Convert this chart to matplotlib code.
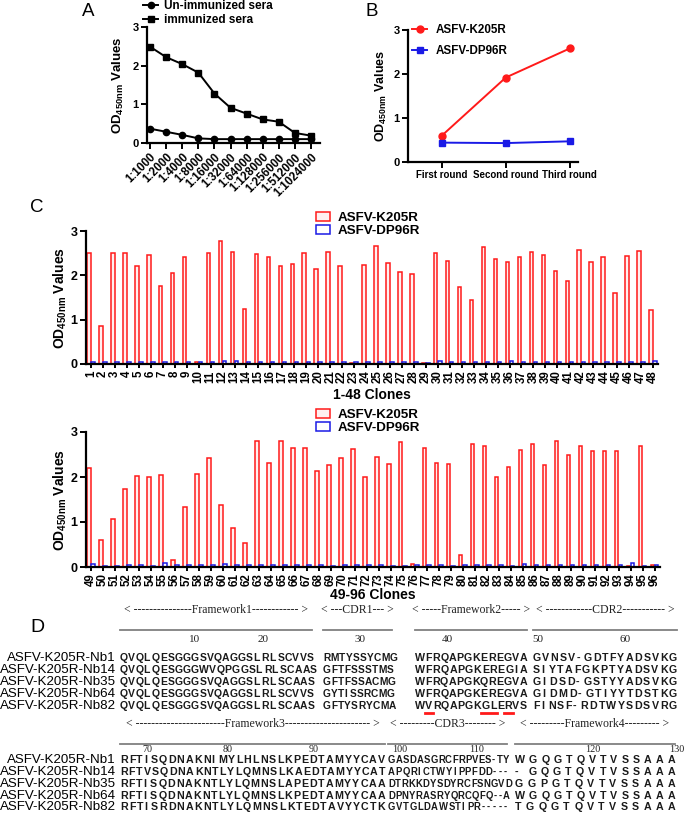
import matplotlib
matplotlib.use("Agg")
import matplotlib.pyplot as plt
import numpy as np
from matplotlib.lines import Line2D
from matplotlib.font_manager import FontProperties

W, H = 685, 816
plt.rcParams['font.family'] = ['Liberation Sans', 'DejaVu Sans']
plt.rcParams['mathtext.fontset'] = 'custom'
plt.rcParams['mathtext.rm'] = 'Liberation Sans:bold'
plt.rcParams['mathtext.bf'] = 'Liberation Sans:bold'
plt.rcParams['mathtext.it'] = 'Liberation Sans:bold'
plt.rcParams['mathtext.default'] = 'bf'

# ---------------- data ----------------
dilutions = ["1:1000", "1:2000", "1:4000", "1:8000", "1:16000", "1:32000",
             "1:64000", "1:128000", "1:256000", "1:512000", "1:1024000"]
unimmunized = [0.37, 0.29, 0.21, 0.12, 0.10, 0.10, 0.10, 0.10, 0.10, 0.10, 0.10]
immunized = [2.49, 2.22, 2.04, 1.82, 1.28, 0.91, 0.76, 0.61, 0.55, 0.26, 0.19]

rounds = ["First round", "Second round", "Third round"]
k205r_rounds = [0.60, 1.92, 2.58]
dp96r_rounds = [0.44, 0.43, 0.47]

clones_a = list(range(1, 49))
k205r_a = [2.50, 0.86, 2.50, 2.50, 2.21, 2.45, 1.77, 2.06, 2.42, 0.05,
           2.50, 2.77, 2.53, 1.24, 2.48, 2.42, 2.20, 2.26, 2.50, 2.15,
           2.52, 2.20, 0.03, 2.23, 2.67, 2.27, 2.08, 2.02, 0.03, 2.51,
           2.32, 1.73, 1.45, 2.63, 2.37, 2.31, 2.41, 2.53, 2.45, 2.09,
           1.88, 2.58, 2.30, 2.42, 1.61, 2.44, 2.55, 1.22]
dp96r_a = [0.05, 0.05, 0.05, 0.05, 0.05, 0.05, 0.05, 0.04, 0.04, 0.05,
           0.04, 0.06, 0.06, 0.04, 0.04, 0.05, 0.05, 0.05, 0.05, 0.04,
           0.04, 0.05, 0.04, 0.05, 0.05, 0.04, 0.05, 0.04, 0.02, 0.07,
           0.05, 0.05, 0.04, 0.05, 0.05, 0.06, 0.05, 0.04, 0.04, 0.05,
           0.05, 0.04, 0.04, 0.05, 0.05, 0.04, 0.04, 0.07]

clones_b = list(range(49, 97))
k205r_b = [2.20, 0.60, 1.06, 1.73, 2.03, 2.00, 2.05, 0.15, 1.34, 2.07,
           2.42, 1.38, 0.86, 0.54, 2.80, 2.32, 2.80, 2.64, 2.64, 2.14,
           2.26, 2.42, 2.63, 2.01, 2.44, 2.29, 2.78, 0.06, 2.64, 2.31,
           2.28, 0.26, 2.73, 2.70, 2.01, 2.23, 2.61, 2.73, 2.27, 2.81,
           2.48, 2.70, 2.58, 2.58, 2.57, 0.03, 2.70, 0.05]
dp96r_b = [0.06, 0.03, 0.03, 0.05, 0.04, 0.03, 0.08, 0.04, 0.04, 0.05,
           0.05, 0.06, 0.04, 0.04, 0.04, 0.04, 0.04, 0.04, 0.04, 0.04,
           0.03, 0.04, 0.04, 0.04, 0.04, 0.03, 0.03, 0.04, 0.04, 0.05,
           0.03, 0.04, 0.04, 0.04, 0.04, 0.03, 0.06, 0.05, 0.04, 0.04,
           0.05, 0.04, 0.04, 0.05, 0.04, 0.08, 0.03, 0.04]

nb_names = ["ASFV-K205R-Nb1", "ASFV-K205R-Nb14", "ASFV-K205R-Nb35",
            "ASFV-K205R-Nb64", "ASFV-K205R-Nb82"]
fr1 = ["QVQL QESGGGSVQAGGSL RL SCVVS", "QVQL QESGGGWVQPGGSL RL SCAAS",
       "QVQL QESGGGSVQAGGSL RL SCAAS", "QVQL QESGGGSVQAGGSL RL SCVVS",
       "QVQL QESGGGSVQAGGSL RL SCAAS"]
cdr1 = ["RMTYSSYCMG", "GFTFSSSTMS", "GFTFSSACMG", "GYTI SSRCMG", "GFTYSRYCMA"]
fr2 = ["WFRQAPGKEREGVA", "WFRQAPGKEREGI A", "WFRQAPGKQREGVA",
       "WFRQAPGKEREGVA", "WVRQAPGKGLERVS"]
cdr2 = ["GVNSV- GDTFYADSVKG", "SI YTAFGKPTYADSVKG", "GI DSD- GSTYYADSVKG",
        "GI DMD- GTI YYTDSTKG", "FI NSF- RDTWYSDSVRG"]
fr3 = ["RFTI SQDNAKNI MYLHLNSLKPEDTAMYYCAV", "RFTVSQDNAKNTLYLQMNSLKAEDTAMYYCAT",
       "RFTI SQDNAKNTLYLQMNSLAPEDTAMYYCAA", "RFTI SQDNAKNTLYLQMNSLKPEDTAMYYCAA",
       "RFTI SRDNAKNTLYLQMNSLKTEDTAVYYCTK"]
cdr3 = ["GASDASGRCFRPVES- TY", "APQRI CTWYI PPFDD- - -", "DTRKKDYSDYRCFSNGVD",
        "DPNYRASRYQRCQFQ- - A", "GVTGLDAWSTI PR- - - - -"]
fr4 = ["WGQGTQVTVSSAAA", "- GQGTQVTVSSAAA", "GGPGTQVTVSSAAA",
       "WGQGTQVTVSSAAA", "TGQGTQVTVSSAAA"]
hdr1 = ["< ---------------Framework1------------ >", "< ---CDR1--- >",
        "< -----Framework2----- >", "< ------------CDR2----------- >"]
hdr2 = ["< -----------------------Framework3---------------------- >",
        "< ---------CDR3-------- >", "< ---------Framework4--------- >"]
nums1 = ["10", "20", "30", "40", "50", "60"]
nums2 = ["70", "80", "90", "100", "110", "120", "130"]

RED = '#ff1a1a'
BLUE = '#1a1ae6'

fig = plt.figure(figsize=(W / 100, H / 100), dpi=100)
fig.patch.set_facecolor('white')


def rect(l, t, r, b):
    return [l / W, 1 - b / H, (r - l) / W, (b - t) / H]


def fx(x):
    return x / W


def fy(y):
    return 1 - y / H


def style(ax, fs):
    for s in ['top', 'right']:
        ax.spines[s].set_visible(False)
    for s in ['left', 'bottom']:
        ax.spines[s].set_linewidth(1.6)
    ax.tick_params(width=1.4, length=4, direction='out', labelsize=fs, pad=2)
    for lab in ax.get_yticklabels() + ax.get_xticklabels():
        lab.set_fontweight('bold')


ylab = r'OD$_{450nm}$ Values'

# ---------------- Panel A ----------------
axA = fig.add_axes(rect(147, 27, 320, 143))
xa = np.arange(len(dilutions))
axA.plot(xa, unimmunized, '-o', color='black', ms=4.5, lw=1.4, clip_on=False,
         label='Un-immunized sera')
axA.plot(xa, immunized, '-s', color='black', ms=5, lw=1.4, clip_on=False,
         label='immunized sera')
axA.set_xlim(-0.19, 10.56)
axA.set_ylim(0, 3)
axA.set_yticks([0, 1, 2, 3])
axA.set_xticks(xa)
axA.set_xticklabels(dilutions, rotation=45, ha='right', rotation_mode='anchor')
style(axA, 8)
for lab in axA.get_xticklabels():
    lab.set_fontsize(8.3)
axA.set_ylabel(ylab, fontsize=9.5, fontweight='bold')
axA.yaxis.set_label_coords((126 - 147) / 173, 0.5)
axA.legend(loc='upper left', bbox_to_anchor=(fx(143), fy(0)),
           bbox_transform=fig.transFigure, frameon=False,
           prop={'weight': 'bold', 'size': 8.5}, borderpad=0, borderaxespad=0,
           handlelength=1.3, handletextpad=0.45, labelspacing=0.15)
fig.text(fx(88), fy(11), 'A', fontsize=13.5, ha='center', va='center')

# ---------------- Panel B ----------------
axB = fig.add_axes(rect(408, 30, 578, 162))
xb = np.arange(len(rounds))
axB.plot(xb, k205r_rounds, '-o', color=RED, ms=5, lw=1.4, label='ASFV-K205R')
axB.plot(xb, dp96r_rounds, '-s', color=BLUE, ms=5, lw=1.4, label='ASFV-DP96R')
axB.set_xlim(-0.53, 2.13)
axB.set_ylim(0, 3)
axB.set_yticks([0, 1, 2, 3])
axB.set_xticks(xb)
axB.set_xticklabels(rounds)
style(axB, 8)
for lab in axB.get_xticklabels():
    lab.set_fontsize(7)
axB.set_ylabel(ylab, fontsize=9, fontweight='bold')
axB.yaxis.set_label_coords((389 - 408) / 170, 0.5)
axB.legend(loc='upper left', bbox_to_anchor=(fx(412), fy(24)),
           bbox_transform=fig.transFigure, frameon=False,
           prop={'weight': 'bold', 'size': 8.4}, borderpad=0, borderaxespad=0,
           handlelength=1.3, handletextpad=0.75, labelspacing=0.8)
fig.text(fx(372), fy(11), 'B', fontsize=13.5, ha='center', va='center')


# ---------------- Panel C ----------------
def bar_panel(rc, clones, red, blue, xlabel, leg_top, xr, lpad):
    ax = fig.add_axes(rect(*rc))
    x = np.array(clones)
    ax.bar(x - 0.17, red, width=0.29, facecolor='#fff0f0', edgecolor=RED,
           lw=1.1, label='ASFV-K205R')
    ax.bar(x + 0.17, blue, width=0.29, facecolor='white', edgecolor=BLUE,
           lw=1.1, label='ASFV-DP96R')
    ax.set_xlim(*xr)
    ax.set_ylim(0, 3)
    ax.set_yticks([0, 1, 2, 3])
    ax.set_xticks(x)
    ax.set_xticklabels([str(c) for c in clones], rotation=90)
    style(ax, 9)
    for lab in ax.get_xticklabels():
        lab.set_fontsize(8.3)
    ax.tick_params(axis='x', length=3, pad=1.5)
    ax.set_ylabel(ylab, fontsize=10, fontweight='bold')
    ax.yaxis.set_label_coords((69 - rc[0]) / (rc[2] - rc[0]), 0.5)
    ax.set_xlabel(xlabel, fontsize=10, fontweight='bold', labelpad=lpad)
    ax.legend(loc='upper left', bbox_to_anchor=(fx(316), fy(leg_top)),
              bbox_transform=fig.transFigure, frameon=False,
              prop={'weight': 'bold', 'size': 9.6}, borderpad=0, borderaxespad=0,
              handlelength=1.05, handleheight=0.7, handletextpad=0.6,
              labelspacing=0.05)
    return ax


bar_panel((86, 231, 658, 364), clones_a, k205r_a, dp96r_a, '1-48 Clones', 212,
          (0.58, 48.42), 3.5)
bar_panel((86, 432, 660, 567), clones_b, k205r_b, dp96r_b, '49-96 Clones', 409,
          (48.58, 96.45), 1.5)
fig.text(fx(37), fy(207), 'C', fontsize=13.5, ha='center', va='center')

# ---------------- Panel D ----------------
fig.text(fx(37), fy(627), 'D', fontsize=14, ha='center', va='center')
renderer = fig.canvas.get_renderer()


def text_w(s, prop):
    w, h, d = renderer.get_text_width_height_descent(s, prop, ismath=False)
    return w


def make_adv(prop):
    base = text_w('HH', prop)
    cache = {}

    def adv(ch):
        if ch not in cache:
            a = text_w('H' + ch + 'H', prop) - base
            cache[ch] = a * 0.5 if ch == ' ' else a
        return cache[ch]
    return adv


rows1 = [658, 670, 682, 694, 706]
# (start, end, allowed overflow into the gap before the next column)
xr1 = [(120, 312, 6), (323, 392, 6), (415, 527, 2), (533, 677, 4)]
rows2 = [760, 772, 784, 796, 807]
xr2 = [(120, 385, 1), (388, 507, 5), (515, 675, 6)]
segs1 = [fr1, cdr1, fr2, cdr2]
segs2 = [fr3, cdr3, fr4]

MAX_SEQ_PT = 7.7
MIN_GAP = 0.25
probe = FontProperties(family='Liberation Sans', weight='bold', size=10)
padv = make_adv(probe)


def column_font(seg, x0, x1, slack):
    r = min((x1 + slack - x0 - MIN_GAP * (len(s) - 1)) /
            sum(padv(c) for c in s) for s in seg)
    size = min(MAX_SEQ_PT, 10 * r)
    prop = FontProperties(family='Liberation Sans', weight='bold', size=size)
    return prop, make_adv(prop)


def draw_seq(s, x0, x1, y, prop, adv):
    """Lay out one aligned segment, justified between x0 and x1 (pixels)."""
    advs = [adv(c) for c in s]
    nat = sum(advs)
    extra = max((x1 - x0 - nat) / max(len(s) - 1, 1), MIN_GAP)
    pos = []
    cur = x0
    for c, a in zip(s, advs):
        pos.append((cur, a))
        if c != ' ':
            fig.text(fx(cur), fy(y), c, fontproperties=prop, ha='left',
                     va='center', color='#1a1a1a')
        cur += a + extra
    return pos


serif = ['Liberation Serif', 'DejaVu Serif']


def block(segs, xranges, headers, nums, numx, y_hdr, y_line, y_num, rows_y,
          num_fs):
    for (x0, x1, _), hd in zip(xranges, headers):
        fig.text(fx((x0 + x1) / 2), fy(y_hdr), hd, family=serif, fontsize=8.5,
                 ha='center', va='center', color='#222222')
        fig.add_artist(Line2D([fx(x0), fx(x1)], [fy(y_line), fy(y_line)],
                              color='#808080', lw=1.3, transform=fig.transFigure))
    for n, nx in zip(nums, numx):
        fig.text(fx(nx), fy(y_num), n, family=serif, fontsize=num_fs,
                 ha='center', va='center', color='#222222')
    fonts = [column_font(seg, x0, x1, sl) for seg, (x0, x1, sl) in
             zip(segs, xranges)]
    out = []
    for i, yr in enumerate(rows_y):
        fig.text(fx(116), fy(yr), nb_names[i], fontsize=9.6, ha='right',
                 va='center')
        row = []
        for seg, (x0, x1, _), (prop, adv) in zip(segs, xranges, fonts):
            row.append(draw_seq(seg[i], x0, x1, yr, prop, adv))
        out.append(row)
    return out


pos1 = block(segs1, xr1, hdr1, nums1, [195, 263, 360, 447, 538, 625],
             610, 630, 639, rows1, 8)
block(segs2, xr2, hdr2, nums2, [147, 228, 314, 400, 477, 593, 677],
      724, 744, 750, rows2, 7.3)

# red underlines (hallmark residues of Nb82 FR2)
p82 = pos1[4][2]
for i0, i1 in [(1, 2), (8, 10), (11, 12)]:
    xs = p82[i0][0] - 0.5
    xe = p82[i1 - 1][0] + p82[i1 - 1][1] + 0.5
    fig.add_artist(Line2D([fx(xs), fx(xe)], [fy(713), fy(713)], color=RED,
                          lw=2, transform=fig.transFigure))

fig.savefig('out.png', dpi=100, facecolor='white')
